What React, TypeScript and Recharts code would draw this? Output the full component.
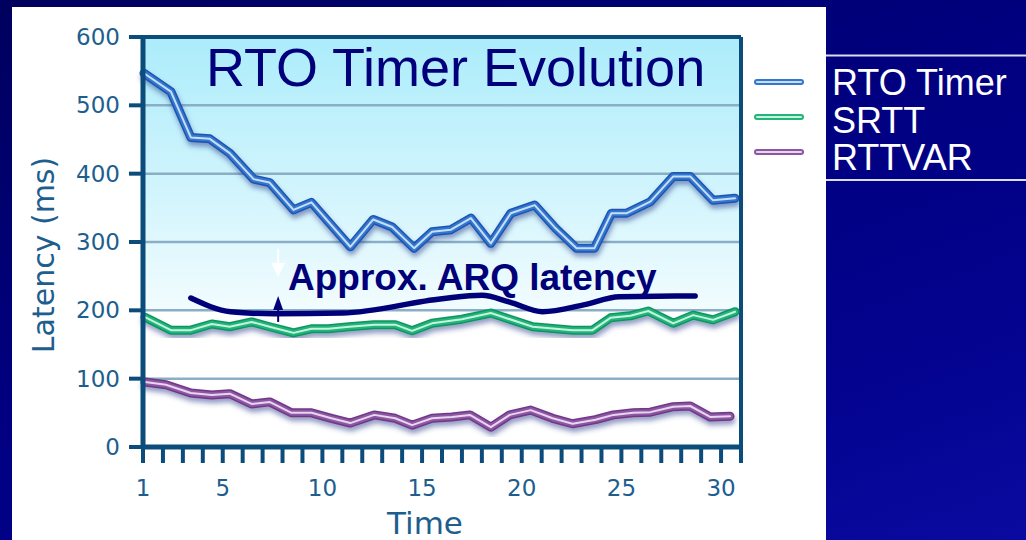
import { CartesianGrid, Line, LineChart, ReferenceLine, XAxis, YAxis } from "recharts";

// values (time units, ms)
const rtoTime = [1.05, 2.4, 3.4, 4.35, 5.35, 6.55, 7.35, 8.55, 9.45, 11.4, 12.55, 13.5, 14.6, 15.5, 16.45, 17.45, 18.45, 19.45, 20.65, 21.7, 22.75, 23.65, 24.5, 25.25, 26.45, 27.6, 28.45, 29.6, 30.7];
const rtoValue = [547, 520, 453, 451, 430, 392, 387, 347, 358, 293, 333, 322, 291, 315, 318, 335, 298, 342, 354, 320, 291, 291, 342, 342, 359, 396, 396, 361, 364];

const srttTime = [1.1, 2.4, 3.4, 4.45, 5.35, 6.45, 7.35, 8.55, 9.45, 10.3, 11.35, 12.6, 13.65, 14.5, 15.5, 17.0, 18.45, 20.55, 22.55, 23.55, 24.45, 25.45, 26.35, 27.6, 28.6, 29.6, 30.7];
const srttValue = [190, 171, 171, 180, 176, 183, 176, 167, 173, 173, 176, 179, 179, 170, 181, 187, 196, 176, 171, 171, 189, 192, 199, 181, 193, 186, 198];

const rttvarTime = [1.1, 2.15, 3.4, 4.45, 5.35, 6.45, 7.35, 8.45, 9.45, 10.45, 11.4, 12.6, 13.65, 14.5, 15.5, 16.5, 17.4, 18.45, 19.4, 20.45, 21.55, 22.55, 23.7, 24.6, 25.6, 26.45, 27.6, 28.45, 29.45, 30.45];
const rttvarValue = [95, 91, 79, 76, 78, 63, 66, 50, 50, 42, 35, 47, 42, 32, 42, 44, 47, 29, 47, 54, 42, 34, 40, 47, 50, 51, 59, 60, 44, 45];

// hand-drawn "approx. ARQ latency" curve
const arqTime = [3.4, 5.4, 7.6, 11.0, 16.0, 18.0, 19.4, 21.05, 23.1, 24.9, 28.7];
const arqValue = [218, 198, 195, 196, 217, 222, 212, 198, 208, 220, 221];

const labeledTimes = [1, 5, 10, 15, 20, 25, 30];
const timeTicks = Array.from({ length: 31 }, (_, i) => i + 1);
const latencyTicks = [0, 100, 200, 300, 400, 500, 600];

const zip = (ts: number[], vs: number[]) => ts.map((t, i) => ({ t, v: vs[i] }));

const series = [
  { name: "RTO Timer", data: zip(rtoTime, rtoValue), edge: "#1f56b0", body: "#3477cf", core: "#c8def8" },
  { name: "SRTT", data: zip(srttTime, srttValue), edge: "#0c965e", body: "#22b47b", core: "#c6f3dd" },
  { name: "RTTVAR", data: zip(rttvarTime, rttvarValue), edge: "#6f3885", body: "#8d58a3", core: "#ead5f0" },
];

const FONT = '"Liberation Sans", Arial, Helvetica, sans-serif';
const AXIS_FONT = '"DejaVu Sans", Verdana, sans-serif';
const AXIS = "#0c4c7b";
const TICK_TEXT = "#1d5e8e";
const NAVY = "#000078";

function Arrow(props: any) {
  const { x1, y1, x2, y2, color, head, half } = props;
  const dir = y2 < y1 ? -1 : 1;
  const base = y2 - dir * head;
  return (
    <g>
      <line x1={x1} y1={y1} x2={x2} y2={base} stroke={color} strokeWidth={2} />
      <polygon points={`${x2},${y2} ${x2 - half},${base} ${x2 + half},${base}`} fill={color} />
    </g>
  );
}

function Tube({ y, s }: { y: number; s: (typeof series)[number] }) {
  return (
    <g strokeLinecap="round">
      <line x1={757} x2={801} y1={y} y2={y} stroke={s.edge} strokeWidth={9} filter="url(#legendShadow)" />
      <line x1={757} x2={801} y1={y} y2={y} stroke={s.body} strokeWidth={6} />
      <line x1={757} x2={801} y1={y} y2={y} stroke={s.core} strokeWidth={2} />
    </g>
  );
}

export default function App() {
  return (
    <div
      style={{
        position: "absolute",
        left: 0,
        top: 0,
        width: 1026,
        height: 540,
        overflow: "hidden",
        background: "linear-gradient(160deg, #00005e 0%, #000080 45%, #03038f 75%, #0a0aa0 100%)",
        fontFamily: FONT,
      }}
    >
      <div style={{ position: "absolute", left: 12, top: 7, width: 814, height: 533, background: "#ffffff" }}>
        <LineChart width={814} height={533} margin={{ top: 30, right: 85, bottom: 0, left: 0 }}>
          <defs>
            <linearGradient id="plotBg" x1="0" y1="0" x2="0" y2="1">
              <stop offset="0" stopColor="#acecfb" />
              <stop offset="0.4" stopColor="#d4f5fd" />
              <stop offset="0.665" stopColor="#f2fcfe" />
              <stop offset="0.667" stopColor="#ffffff" />
              <stop offset="1" stopColor="#ffffff" />
            </linearGradient>
            <filter id="lineShadow" x="-5%" y="-20%" width="110%" height="140%">
              <feDropShadow dx="1" dy="4" stdDeviation="2.5" floodColor="#2a3a8a" floodOpacity="0.5" />
            </filter>
          </defs>
          <CartesianGrid
            vertical={false}
            stroke="#8aaec6"
            strokeWidth={2.5}
            fill="url(#plotBg)"
            fillOpacity={1}
          />
          <XAxis
            dataKey="t"
            type="number"
            domain={[1, 31]}
            ticks={timeTicks}
            interval={0}
            height={93}
            tickSize={16}
            tickMargin={17}
            axisLine={{ stroke: AXIS, strokeWidth: 5 }}
            tickLine={{ stroke: AXIS, strokeWidth: 4 }}
            tickFormatter={(v: number) => (labeledTimes.includes(v) ? String(v) : "")}
            tick={{ fill: TICK_TEXT, fontSize: 23, fontFamily: AXIS_FONT }}
          />
          <YAxis
            type="number"
            domain={[0, 600]}
            ticks={latencyTicks}
            interval={0}
            width={131}
            tickSize={14}
            tickMargin={9}
            axisLine={{ stroke: AXIS, strokeWidth: 5 }}
            tickLine={{ stroke: AXIS, strokeWidth: 4 }}
            tick={{ fill: TICK_TEXT, fontSize: 23, fontFamily: AXIS_FONT }}
          />
          <ReferenceLine y={600} stroke={AXIS} strokeWidth={4} ifOverflow="visible" />
          <ReferenceLine x={31} stroke={AXIS} strokeWidth={4} ifOverflow="visible" />
          {series.flatMap((s) => [
            <Line
              key={s.name + "-edge"}
              data={s.data}
              dataKey="v"
              type="linear"
              stroke={s.edge}
              strokeWidth={9}
              strokeLinejoin="round"
              strokeLinecap="round"
              filter="url(#lineShadow)"
              dot={false}
              activeDot={false}
              isAnimationActive={false}
            />,
            <Line
              key={s.name + "-body"}
              data={s.data}
              dataKey="v"
              type="linear"
              stroke={s.body}
              strokeWidth={6}
              strokeLinejoin="round"
              strokeLinecap="round"
              dot={false}
              activeDot={false}
              isAnimationActive={false}
            />,
            <Line
              key={s.name + "-core"}
              data={s.data}
              dataKey="v"
              type="linear"
              stroke={s.core}
              strokeWidth={2}
              strokeLinejoin="round"
              strokeLinecap="round"
              dot={false}
              activeDot={false}
              isAnimationActive={false}
            />,
          ])}
          <Line
            data={zip(arqTime, arqValue)}
            dataKey="v"
            type="monotone"
            stroke={NAVY}
            strokeWidth={5.5}
            strokeLinecap="round"
            dot={false}
            activeDot={false}
            isAnimationActive={false}
          />
          <ReferenceLine
            segment={[{ x: 7.78, y: 183 }, { x: 7.78, y: 221 }]}
            ifOverflow="visible"
            shape={(p: any) => <Arrow {...p} color={NAVY} head={14} half={5} />}
          />
          <ReferenceLine
            segment={[{ x: 7.78, y: 290 }, { x: 7.78, y: 249 }]}
            ifOverflow="visible"
            shape={(p: any) => <Arrow {...p} color="#ffffff" head={14} half={7} />}
          />
        </LineChart>
      </div>

      <svg width={1026} height={540} style={{ position: "absolute", left: 0, top: 0, pointerEvents: "none" }} fontFamily={FONT}>
        <defs>
          <filter id="legendShadow" x="-20%" y="-100%" width="140%" height="300%">
            <feDropShadow dx="1" dy="4" stdDeviation="2.5" floodColor="#2a3a8a" floodOpacity="0.5" />
          </filter>
        </defs>
        <text x={206} y={86} fontSize={54} fill="#00007d">
          RTO Timer Evolution
        </text>
        <text x={288} y={290} fontSize={37} fontWeight="bold" fill={NAVY}>
          Approx. ARQ latency
        </text>
        <text
          x={54}
          y={255}
          fontSize={30}
          fontFamily={AXIS_FONT}
          fill={TICK_TEXT}
          textAnchor="middle"
          transform="rotate(-90 54 255)"
        >
          Latency (ms)
        </text>
        <text x={425} y={534} fontSize={31} fontFamily={AXIS_FONT} fill={TICK_TEXT} textAnchor="middle">
          Time
        </text>

        {series.map((s, i) => (
          <Tube key={s.name} y={82 + i * 35} s={s} />
        ))}

        <line x1={826} x2={1026} y1={55.5} y2={55.5} stroke="#dcdcf4" strokeWidth={2} />
        <line x1={826} x2={1026} y1={180} y2={180} stroke="#dcdcf4" strokeWidth={2} />
        {series.map((s, i) => (
          <text key={s.name} x={832} y={95 + i * 37.5} fontSize={36} fill="#ffffff">
            {s.name}
          </text>
        ))}
      </svg>
    </div>
  );
}
